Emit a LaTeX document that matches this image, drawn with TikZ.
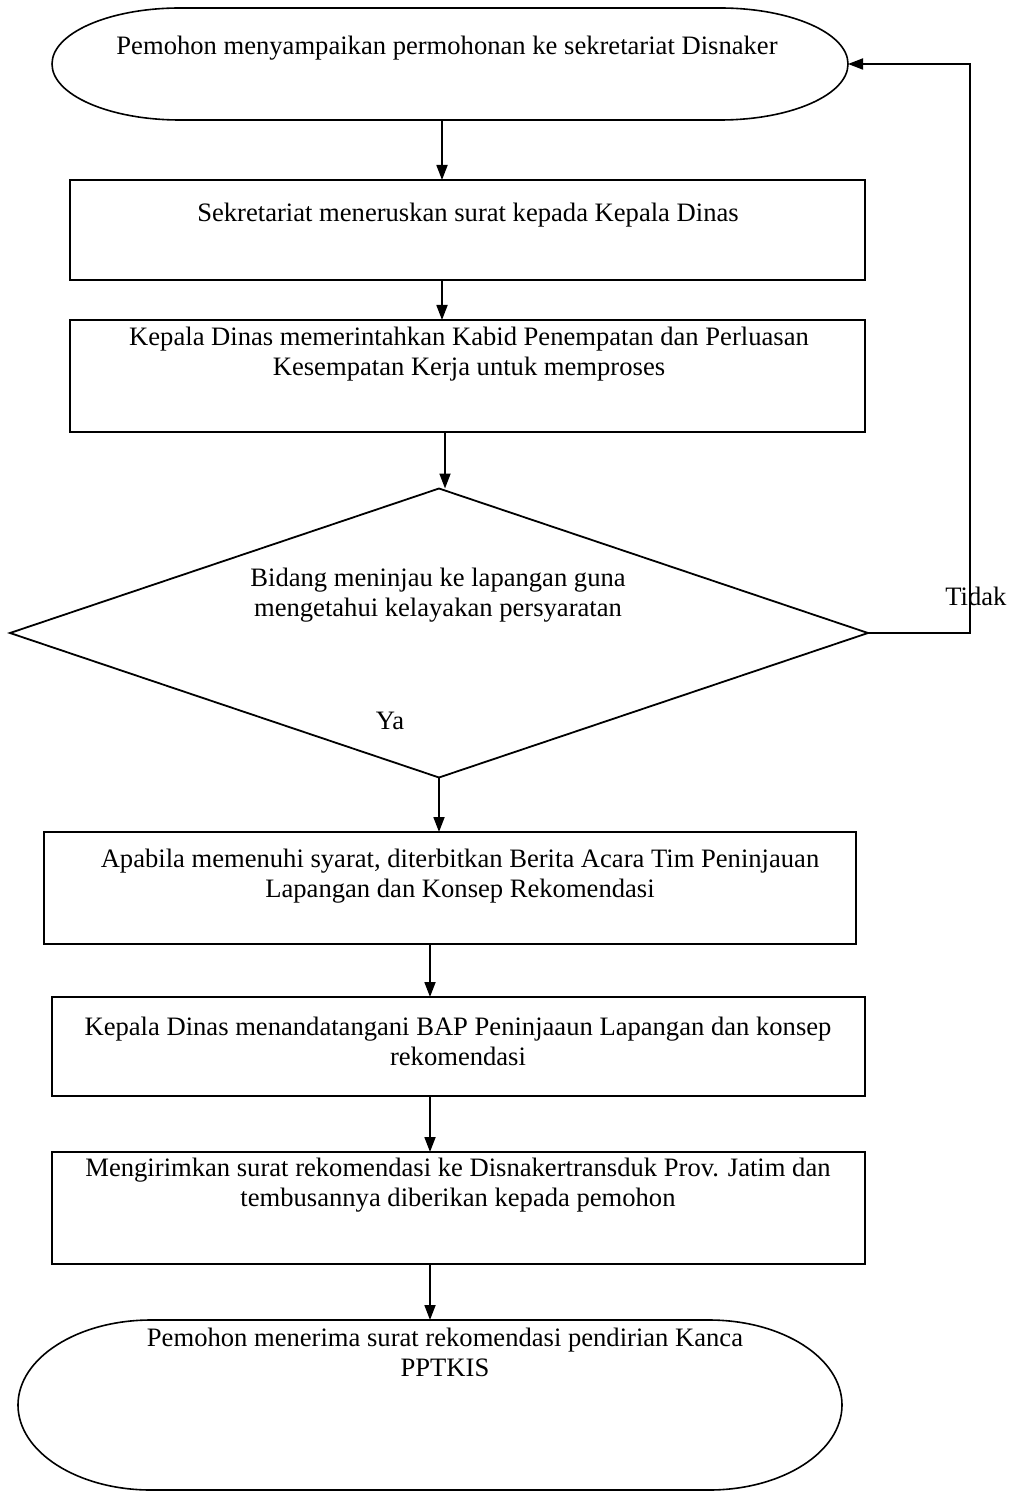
\documentclass[tikz,border=0pt]{standalone}
\usepackage{fontspec}
\setmainfont{Liberation Serif}
\usetikzlibrary{fit,shapes.geometric,arrows.meta}
\begin{document}
\begin{tikzpicture}[x=0.5pt,y=-0.5pt,
  frame/.style={inner sep=0pt, outer sep=0pt},
  blk/.style={draw, line width=0.9pt, inner sep=0pt, outer sep=0pt},
  term/.style={line width=0.8pt},
  lbl/.style={font=\fontsize{13.3}{15}\selectfont, align=center, anchor=base, inner sep=0pt},
  arr/.style={line width=0.9pt, -{Triangle[length=7.5pt,width=5.5pt]}}]
\useasboundingbox (0,0) rectangle (1020,1492);

% start terminator
\node[frame, fit={(52,8) (848,120)}] (e1) {};
\draw[term] ([xshift=64pt]e1.north west) -- ([xshift=-64pt]e1.north east)
  arc[start angle=90, end angle=-90, x radius=64pt, y radius=28pt]
  -- ([xshift=64pt]e1.south west)
  arc[start angle=270, end angle=90, x radius=64pt, y radius=28pt] -- cycle;
\node[lbl] (t0) at (447,55) {Pemohon menyampaikan permohonan ke sekretariat Disnaker};

% process steps (two-line labels are placed by the baseline of their last line)
\node[blk, fit={(70,180) (865,280)}] (b1) {};
\node[lbl] (t1) at (468,222) {Sekretariat meneruskan surat kepada Kepala Dinas};

\node[blk, fit={(70,320) (865,432)}] (b2) {};
\node[lbl] (t2) at (469,375) {Kepala Dinas memerintahkan Kabid Penempatan dan Perluasan\\Kesempatan Kerja untuk memproses};

% decision
\node[blk, diamond, minimum width=429pt, minimum height=144.5pt] (d) at (439,633) {};
\node[lbl] (t3) at (438,616) {Bidang meninjau ke lapangan guna\\mengetahui kelayakan persyaratan};
\node[lbl] (ya) at (390,729) {Ya};
\node[lbl, anchor=base west] (tidak) at (945,605) {Tidak};

\node[blk, fit={(44,832) (856,944)}] (b3) {};
\node[lbl] (t4) at (460,897) {Apabila memenuhi syarat, diterbitkan Berita Acara Tim Peninjauan\\Lapangan dan Konsep Rekomendasi};

\node[blk, fit={(52,997) (865,1096)}] (b4) {};
\node[lbl] (t5) at (458,1065) {Kepala Dinas menandatangani BAP Peninjaaun Lapangan dan konsep\\rekomendasi};

\node[blk, fit={(52,1152) (865,1264)}] (b5) {};
\node[lbl] (t6) at (458,1206) {Mengirimkan surat rekomendasi ke Disnakertransduk Prov. Jatim dan\\tembusannya diberikan kepada pemohon};

% end terminator
\node[frame, fit={(18,1320) (842,1490)}] (e2) {};
\draw[term] ([xshift=66.5pt]e2.north west) -- ([xshift=-66.5pt]e2.north east)
  arc[start angle=90, end angle=-90, x radius=66.5pt, y radius=42.5pt]
  -- ([xshift=66.5pt]e2.south west)
  arc[start angle=270, end angle=90, x radius=66.5pt, y radius=42.5pt] -- cycle;
\node[lbl] (t7) at (445,1376) {Pemohon menerima surat rekomendasi pendirian Kanca\\PPTKIS};

% connectors
\draw[arr] ([xshift=-4pt]e1.south) -- ([xshift=-4pt]e1.south |- b1.north);
\draw[arr] ([xshift=-4pt]e1.south |- b1.south) -- ([xshift=-4pt]e1.south |- b2.north);
\draw[arr] ([xshift=3pt]d.north |- b2.south) -- ([xshift=3pt]d.north);
\draw[arr] (d.south) -- (d.south |- b3.north);
\draw[arr] (b3.south -| e2.north) -- (b4.north -| e2.north);
\draw[arr] (b4.south -| e2.north) -- (b5.north -| e2.north);
\draw[arr] (b5.south -| e2.north) -- (e2.north);
\draw[arr] (d.east) -- ++(102,0) |- (e1.east);
\end{tikzpicture}
\end{document}
